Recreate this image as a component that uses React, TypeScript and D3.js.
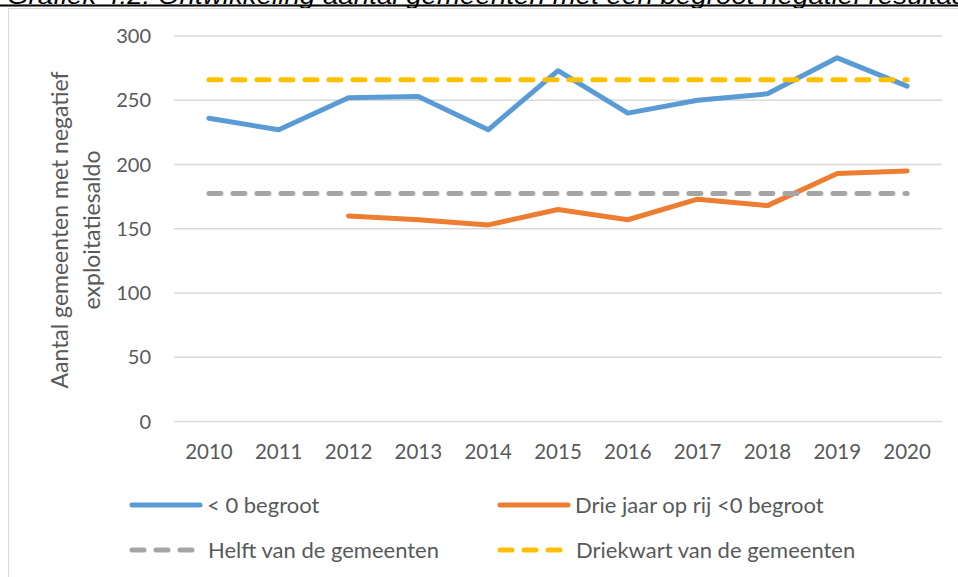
import React from "react";
import * as d3 from "d3";

// Chart data
const years = ["2010", "2011", "2012", "2013", "2014", "2015", "2016", "2017", "2018", "2019", "2020"];
const negatief = [236, 227, 252, 253, 227, 273, 240, 250, 255, 283, 261];
const drieJaar: (number | null)[] = [null, null, 160, 157, 153, 165, 157, 173, 168, 193, 195];
const helft = 177.5;
const driekwart = 266;
const yTicks = [0, 50, 100, 150, 200, 250, 300];

const seriesNames = ["< 0 begroot", "Drie jaar op rij <0 begroot", "Helft van de gemeenten", "Driekwart van de gemeenten"];
const seriesColors = ["#5b9bd5", "#ed7d31", "#a5a5a5", "#ffc000"];

const width = 958;
const height = 577;
const left = 174;
const right = 942;
const top = 36;
const bottom = 421.5;
const font = "Lato, 'Open Sans', sans-serif";

export default function App() {
  const x = d3.scaleBand<string>().domain(years).range([left, right]).padding(0);
  const cx = (yr: string) => (x(yr) as number) + x.bandwidth() / 2;
  const y = d3.scaleLinear().domain([0, 300]).range([bottom, top]);

  const line = d3
    .line<number | null>()
    .defined((d) => d !== null)
    .x((_, i) => cx(years[i]))
    .y((d) => y(d as number));

  const flat = (v: number) => years.map(() => v);

  const series = [
    { data: negatief as (number | null)[], dash: null },
    { data: drieJaar, dash: null },
    { data: flat(helft), dash: "12,12" },
    { data: flat(driekwart), dash: "12,12" },
  ];

  // legend slots
  const legendPos = [
    { x: 130, y: 505 },
    { x: 498, y: 505 },
    { x: 130, y: 550 },
    { x: 498, y: 550 },
  ];

  return (
    <svg width={width} height={height} style={{ position: "absolute", left: 0, top: 0 }}>
      <rect width={width} height={height} fill="#fff" />
      {/* cut-off caption above the chart */}
      <text
        x={7}
        y={4}
        fontFamily="'Liberation Sans', Arial, sans-serif"
        fontStyle="italic"
        fontSize={24}
        fill="#000"
        textLength={968}
        lengthAdjust="spacingAndGlyphs"
      >
        Grafiek 4.2: Ontwikkeling aantal gemeenten met een begroot negatief resultaat
      </text>
      <line x1={0} x2={width} y1={5.5} y2={5.5} stroke="#000" strokeWidth={2} />
      {/* chart frame */}
      <rect x={8.5} y={8.5} width={width + 10} height={height + 10} fill="none" stroke="#d9d9d9" strokeWidth={1} />

      {/* gridlines */}
      {yTicks.map((t) => (
        <g key={t}>
          <line x1={left} x2={right} y1={y(t)} y2={y(t)} stroke="#d9d9d9" strokeWidth={1.5} />
          <text x={151} y={y(t)} dy="0.35em" textAnchor="end" fontFamily={font} fontSize={20} fill="#595959">
            {t}
          </text>
        </g>
      ))}

      {years.map((yr) => (
        <text key={yr} x={cx(yr)} y={459} textAnchor="middle" fontFamily={font} fontSize={20.5} fill="#595959">
          {yr}
        </text>
      ))}

      <text transform="translate(68,230) rotate(-90)" textAnchor="middle" fontFamily={font} fontSize={23} fill="#595959">
        <tspan x={0} dy={0}>Aantal gemeenten met negatief</tspan>
        <tspan x={0} dy={32}>exploitatiesaldo</tspan>
      </text>

      {series.map((s, i) => (
        <path
          key={i}
          d={line(s.data) || ""}
          fill="none"
          stroke={seriesColors[i]}
          strokeWidth={5}
          strokeLinejoin="round"
          strokeLinecap="round"
          strokeDasharray={s.dash || undefined}
        />
      ))}

      {seriesNames.map((name, i) => {
        const p = legendPos[i];
        const dashed = i >= 2;
        return (
          <g key={name}>
            <line
              x1={p.x + 2}
              x2={p.x + (dashed ? 63 : 70)}
              y1={p.y}
              y2={p.y}
              stroke={seriesColors[i]}
              strokeWidth={5}
              strokeLinecap="round"
              strokeDasharray={dashed ? "12,12" : undefined}
            />
            <text x={p.x + (dashed ? 78 : 77)} y={p.y} dy="0.35em" fontFamily={font} fontSize={22} fill="#595959">
              {name}
            </text>
          </g>
        );
      })}
    </svg>
  );
}
